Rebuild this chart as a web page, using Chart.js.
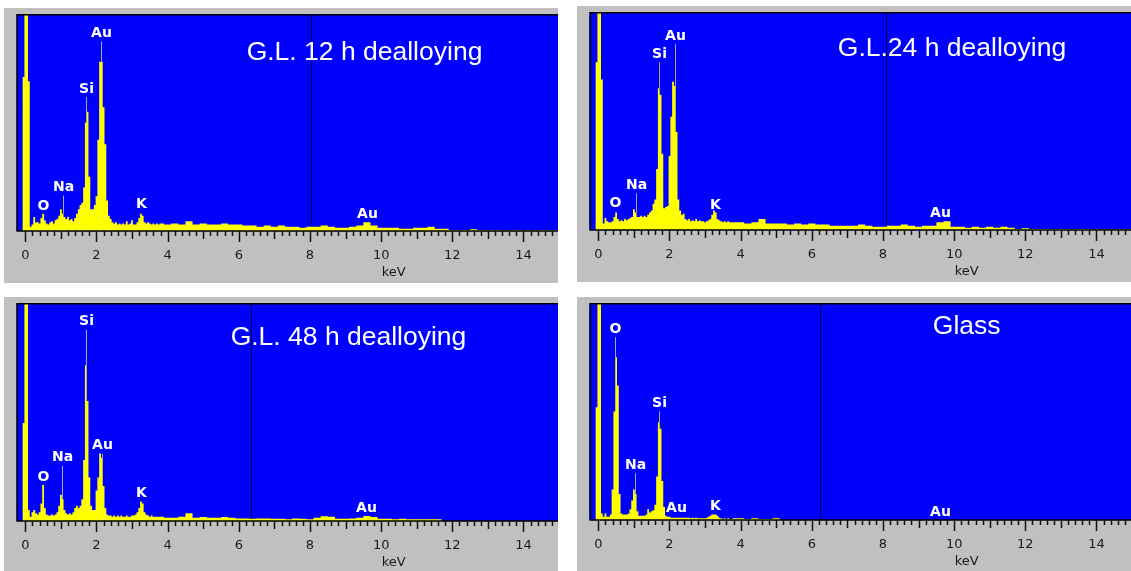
<!DOCTYPE html>
<html>
<head>
<meta charset="utf-8">
<script src="https://cdn.jsdelivr.net/npm/chart.js@4.4.1/dist/chart.umd.min.js"></script>
<style>
  html, body { margin: 0; padding: 0; background: #fff; overflow: hidden; }
  canvas { position: absolute; background: #c0c0c0; }
</style>
</head>
<body>
<canvas id="p12" width="554" height="275" style="left:4px;top:8px"></canvas>
<canvas id="p24" width="554" height="276" style="left:577px;top:6px"></canvas>
<canvas id="p48" width="554" height="276" style="left:4px;top:297px"></canvas>
<canvas id="pGlass" width="554" height="275" style="left:577px;top:297px"></canvas>
<script>
// energy channels (keV): fine steps below 4 keV, coarse above
const kevLow = [
  -0.2, -0.15, -0.1, -0.05, 0, 0.05, 0.1, 0.15, 0.2, 0.25,
  0.3, 0.35, 0.4, 0.45, 0.5, 0.55, 0.6, 0.65, 0.7, 0.75,
  0.8, 0.85, 0.9, 0.95, 1.0, 1.05, 1.1, 1.15, 1.2, 1.25,
  1.3, 1.35, 1.4, 1.45, 1.5, 1.55, 1.6, 1.65, 1.7, 1.75,
  1.8, 1.85, 1.9, 1.95, 2.0, 2.05, 2.1, 2.15, 2.2, 2.25,
  2.3, 2.35, 2.4, 2.45, 2.5, 2.55, 2.6, 2.65, 2.7, 2.75,
  2.8, 2.85, 2.9, 2.95, 3.0, 3.05, 3.1, 3.15, 3.2, 3.25,
  3.3, 3.35, 3.4, 3.45, 3.5, 3.55, 3.6, 3.65, 3.7, 3.75,
  3.8
];
const kevHigh = [
  4.0, 4.2, 4.4, 4.6, 4.8, 5.0, 5.2, 5.4, 5.6, 5.8,
  6.0, 6.2, 6.4, 6.6, 6.8, 7.0, 7.2, 7.4, 7.6, 7.8,
  8.0, 8.2, 8.4, 8.6, 8.8, 9.0, 9.2, 9.4, 9.6, 9.8,
  10.0, 10.2, 10.4, 10.6, 10.8, 11.0, 11.2, 11.4, 11.6, 11.8,
  12.0, 12.2, 12.4, 12.6, 12.8, 13.0, 13.2, 13.4, 13.6, 13.8,
  14.0, 14.2, 14.4, 14.6, 14.8, 15.0
];

// counts, % of full scale (values over 100 are cut off at the top)
const gl12Low = [
  0, 0, 0, 71, 120, 120, 69, 2, 3, 6.5,
  4, 4, 3.5, 6, 8, 5, 3.5, 3, 4, 4.5,
  3.5, 5, 5.5, 7, 10, 8, 6.5, 5.5, 6.5, 5,
  5.5, 4.5, 6, 8, 10, 12, 13, 20, 50, 55,
  25, 10, 10, 12, 16, 42, 78, 78, 57, 40,
  14, 7, 5.5, 4, 3.5, 4, 3, 3.5, 3, 3.5,
  3, 4.5, 3, 3.5, 5, 3, 3, 4, 6, 8,
  7, 4, 3.5, 4, 3.5, 3, 3.5, 3, 3.5, 3,
  3.5
];
const gl12High = [
  3, 3.5, 3, 4.5, 3, 3.5, 3, 3, 3.5, 3,
  3, 2.5, 2.5, 2, 2.5, 2, 2.5, 2, 2, 1.5,
  2, 2, 2.5, 2, 1.5, 1.5, 2, 2.5, 4, 2.5,
  1.5, 1.5, 1.5, 1, 1, 1.5, 1.5, 2, 1, 1,
  0.5, 0.5, 0.5, 0.8, 0.5, 0.3, 0.5, 0.3, 0.3, 0.5,
  0.3, 0.3, 0.3, 0.5, 0.3, 0.3
];

const gl24Low = [
  0, 0, 0, 77, 120, 120, 69, 3, 5.5, 4,
  3.5, 3.5, 4, 6, 8, 5, 4, 4.5, 4, 5,
  4.5, 5, 5.5, 6, 9.5, 8, 6, 6, 6.5, 6,
  6.5, 6, 7, 8, 9, 12, 14, 28, 65, 62,
  35, 10, 10.5, 11, 34, 52, 68, 66, 45, 14,
  9, 7, 7.5, 5, 4.5, 5, 4, 4.5, 4, 5,
  4, 4.5, 4, 4, 3.5, 4, 4.5, 5, 7, 9,
  8, 5, 4.5, 4, 3.5, 4, 3.5, 4, 3.5, 3.5,
  3.5
];
const gl24High = [
  3.5, 3, 3.5, 5, 3, 3, 3, 2.5, 3, 2.5,
  3, 2.5, 2.5, 2, 2, 2, 2, 2.5, 2, 1.5,
  1.5, 2, 2, 2.5, 2, 1.5, 2, 2, 3.5, 4,
  1.5, 1.5, 1, 1.5, 1, 1.5, 1, 1.5, 1, 0.5,
  0.8, 0.5, 0.5, 0.5, 0.3, 0.5, 0.3, 0.3, 0.5, 0.3,
  0.3, 0.3, 0.3, 0.3, 0.3, 0.3
];

const gl48Low = [
  0, 0, 0, 45, 120, 120, 5, 2, 4, 5,
  3.5, 3, 4, 8, 16.5, 6, 3, 2.5, 2.5, 3,
  2.5, 3, 4, 7, 12, 10, 5, 3.5, 3, 3.5,
  3, 4, 6, 7, 6, 7, 10, 28, 71.5, 55,
  20, 7, 5, 5, 14, 20, 31, 29, 16, 6,
  3, 2.5, 2.5, 2, 2.5, 2, 2.5, 2, 2.5, 2,
  2, 2.5, 2, 2, 2.5, 2.5, 3, 4, 6, 9,
  8, 4, 3, 2.5, 2, 2.5, 2, 2, 2, 2,
  2
];
const gl48High = [
  1.5, 1.5, 2, 3.5, 1.5, 1.8, 1.5, 1.5, 1.8, 1.5,
  1.2, 1.2, 1, 1.2, 1.2, 1, 1, 0.8, 1.2, 1,
  0.8, 1.5, 2.2, 2, 1, 1, 1.2, 1.5, 2.3, 1.8,
  1, 1, 0.8, 1, 0.8, 0.8, 0.8, 0.8, 0.8, 0,
  0, 0, 0, 0, 0, 0, 0, 0, 0, 0,
  0, 0, 0, 0, 0, 0
];

const glassLow = [
  0, 0, 0, 52, 120, 120, 3, 1.5, 3, 1.5,
  1.5, 2.5, 14, 50, 75, 62, 12, 3, 2.5, 2.5,
  2.5, 3, 5, 9, 14, 12, 4, 2, 2, 2,
  2, 2.5, 5, 3.5, 4, 4.5, 7, 20, 45, 42,
  18, 6, 2, 1.5, 1.5, 1, 1, 1, 1, 1,
  1, 1, 1, 1, 1, 1, 0.8, 1, 0.8, 1,
  0.8, 0.8, 0.8, 0.8, 0.8, 1, 1.5, 2, 2.5, 2.5,
  2.5, 2, 1, 0.8, 0.5, 0.8, 0.5, 0.8, 0.5, 0.5,
  0.8
];
const glassHigh = [
  0.8, 0.5, 0.8, 0.5, 0.5, 0.8, 0, 0, 0, 0,
  0, 0, 0, 0, 0, 0, 0, 0, 0, 0,
  0, 0, 0, 0, 0, 0, 0, 0, 0, 0,
  0, 0, 0, 0, 0, 0, 0, 0, 0, 0,
  0, 0, 0, 0, 0, 0, 0, 0, 0, 0,
  0, 0, 0, 0, 0, 0
];

// element labels: text, keV position, height (%)
const peakNames = ['O', 'Na', 'Si', 'Au', 'K', 'Au'];
const peakKev12 = [0.5, 1.05, 1.71, 2.13, 3.25, 9.6];
const peakLvl12 = [11.5, 20, 65.4, 91, 12.4, 7.7];
const peakKev24 = [0.48, 1.05, 1.71, 2.16, 3.28, 9.6];
const peakLvl24 = [12.4, 20.6, 80.6, 89, 11.5, 7.8];
const peakKev48 = [0.5, 1.04, 1.71, 2.16, 3.25, 9.58];
const peakLvl48 = [20, 29, 91.4, 34.5, 12.8, 6];
const peakKevGlass = [0.48, 1.04, 1.7, 2.19, 3.27, 9.6];
const peakLvlGlass = [87.9, 25.3, 53.8, 5.4, 6.5, 3.7];

const titles = ['G.L. 12 h dealloying', 'G.L.24 h dealloying', 'G.L. 48 h dealloying', 'Glass'];
const titleKev = [6.22, 6.73, 5.77, 9.4];
const titleLvl = [78.8, 79.8, 80.7, 85.7];
const cursorKev = [8.04, 8.08, 6.33, 6.23];
const tickLabels = [0, 2, 4, 6, 8, 10, 12, 14];
const unitKev = 10.35;

const kev = kevLow.concat(kevHigh);

// 背景・カーソル・ラベル・目盛りを描くプラグイン
function makeEdsPlugin(p) {
    return {
        id: 'eds',
        beforeDatasetsDraw(chart) {
            const { ctx, chartArea: a, scales: { x } } = chart;
            ctx.save();
            ctx.fillStyle = '#0000ff';
            ctx.fillRect(a.left, a.top, a.right - a.left, a.bottom - a.top);
            const cx = Math.round(x.getPixelForValue(p.cursor)) + 0.5;
            ctx.strokeStyle = '#00003a';
            ctx.lineWidth = 1;
            ctx.beginPath();
            ctx.moveTo(cx, a.top);
            ctx.lineTo(cx, a.bottom);
            ctx.stroke();
            ctx.restore();
        },
        afterDatasetsDraw(chart) {
            const { ctx, chartArea: a, scales: { x, y } } = chart;
            ctx.save();

            // element markers and labels
            ctx.font = 'bold 14px "DejaVu Sans"';
            ctx.textAlign = 'center';
            ctx.textBaseline = 'middle';
            peakNames.forEach((name, i) => {
                const px = Math.round(x.getPixelForValue(p.peakKev[i])) + 0.5;
                const py = y.getPixelForValue(p.peakLvl[i]);
                // nearest channel
                let k = 0;
                kev.forEach((e, j) => {
                    if (Math.abs(e - p.peakKev[i]) < Math.abs(kev[k] - p.peakKev[i])) k = j;
                });
                const top = y.getPixelForValue(Math.min(p.counts[k], 100));
                if (top - (py + 8) > 2) {
                    ctx.strokeStyle = '#a8a8a8';
                    ctx.lineWidth = 1;
                    ctx.beginPath();
                    ctx.moveTo(px, py + 8);
                    ctx.lineTo(px, top);
                    ctx.stroke();
                }
                ctx.fillStyle = '#ffffff';
                ctx.fillText(name, px, py);
            });

            // title
            ctx.font = '26.5px "Liberation Sans"';
            ctx.textAlign = 'left';
            ctx.textBaseline = 'alphabetic';
            ctx.fillText(p.title, x.getPixelForValue(p.titleKev), y.getPixelForValue(p.titleLvl));

            // frame lines
            ctx.strokeStyle = '#000';
            ctx.lineWidth = 1.5;
            ctx.beginPath();
            ctx.moveTo(a.left + 0.75, a.bottom);
            ctx.lineTo(a.left + 0.75, a.top + 0.75);
            ctx.lineTo(a.right, a.top + 0.75);
            ctx.moveTo(a.left, a.bottom);
            ctx.lineTo(a.right, a.bottom);
            ctx.stroke();

            // tick marks every 0.2 keV
            ctx.lineWidth = 1.5;
            ctx.strokeStyle = '#111';
            ctx.beginPath();
            for (let i = 0; i <= 75; i++) {
                const tx = Math.round(x.getPixelForValue(i * 0.2)) + 0.5;
                if (tx > a.right) break;
                const len = i % 10 === 0 ? 11 : (i % 5 === 0 ? 8 : 5);
                ctx.moveTo(tx, a.bottom);
                ctx.lineTo(tx, a.bottom + len);
            }
            ctx.stroke();

            // unit
            ctx.font = '13px "DejaVu Sans"';
            ctx.fillStyle = '#1a1a1a';
            ctx.textAlign = 'center';
            ctx.textBaseline = 'middle';
            ctx.fillText('keV', x.getPixelForValue(unitKev), a.bottom + 42);
            ctx.restore();
        }
    };
}

function drawSpectrum(id, p) {
    p.counts = p.low.concat(p.high);
    const points = kev.map((e, i) => ({ x: e, y: p.counts[i] }));
    new Chart(document.getElementById(id), {
        type: 'line',
        data: {
            datasets: [{
                data: points,
                stepped: 'middle',
                fill: 'origin',
                backgroundColor: '#ffff00',
                borderColor: '#ffff00',
                borderWidth: 0,
                pointRadius: 0
            }]
        },
        options: {
            responsive: false,
            animation: false,
            events: [],
            layout: { padding: { left: 11, top: 6, right: 0, bottom: 0 } },
            scales: {
                x: {
                    type: 'linear',
                    min: -0.25,
                    max: 14.97,
                    grid: { display: false, drawTicks: false },
                    border: { display: false },
                    afterBuildTicks: s => { s.ticks = tickLabels.map(v => ({ value: v })); },
                    afterFit: s => { s.height = 52; },
                    ticks: {
                        padding: 17,
                        color: '#1a1a1a',
                        font: { family: 'DejaVu Sans', size: 13 },
                        callback: v => String(v)
                    }
                },
                y: { display: false, min: 0, max: 100 }
            },
            plugins: { legend: { display: false }, tooltip: { enabled: false } }
        },
        plugins: [makeEdsPlugin(p)]
    });
}

drawSpectrum('p12', { low: gl12Low, high: gl12High, peakKev: peakKev12, peakLvl: peakLvl12,
    title: titles[0], titleKev: titleKev[0], titleLvl: titleLvl[0], cursor: cursorKev[0] });
drawSpectrum('p24', { low: gl24Low, high: gl24High, peakKev: peakKev24, peakLvl: peakLvl24,
    title: titles[1], titleKev: titleKev[1], titleLvl: titleLvl[1], cursor: cursorKev[1] });
drawSpectrum('p48', { low: gl48Low, high: gl48High, peakKev: peakKev48, peakLvl: peakLvl48,
    title: titles[2], titleKev: titleKev[2], titleLvl: titleLvl[2], cursor: cursorKev[2] });
drawSpectrum('pGlass', { low: glassLow, high: glassHigh, peakKev: peakKevGlass, peakLvl: peakLvlGlass,
    title: titles[3], titleKev: titleKev[3], titleLvl: titleLvl[3], cursor: cursorKev[3] });
</script>
</body>
</html>
